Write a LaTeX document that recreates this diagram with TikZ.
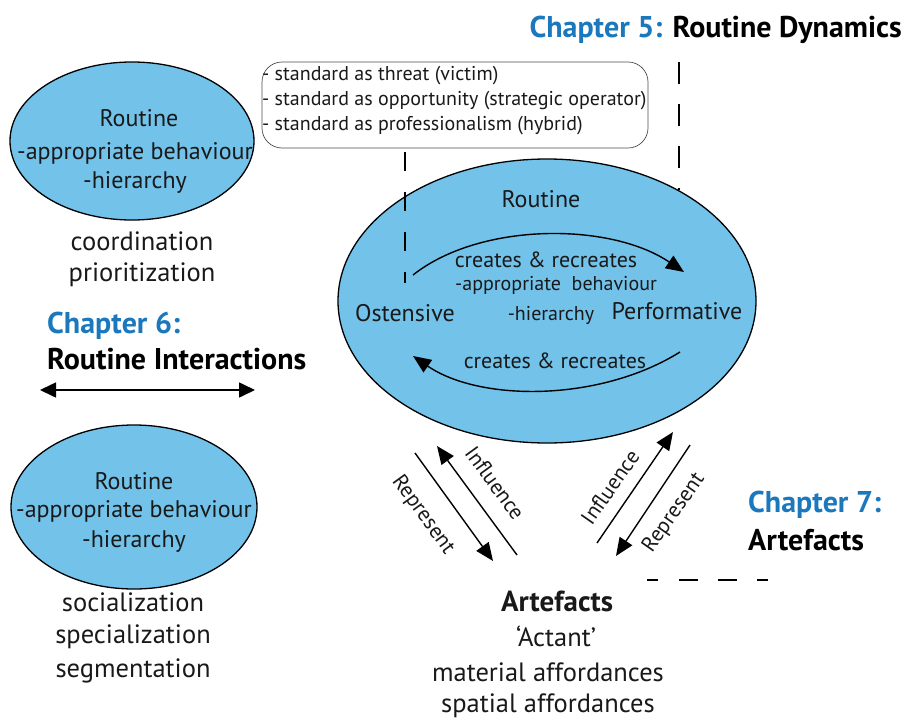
\documentclass[tikz,border=0pt]{standalone}
\usepackage{fontspec}
\setmainfont{PT Sans}
\usetikzlibrary{arrows.meta,shapes.geometric}
\definecolor{routblue}{HTML}{72C2EA}
\definecolor{chapblue}{HTML}{1B78BD}
\newcommand\myfs[1]{\fontsize{#1}{#1}\selectfont}
\begin{document}
\begin{tikzpicture}[x=1pt,y=-1pt,
  routine/.style={draw=black, line width=1.3pt, ellipse, fill=routblue, inner sep=0pt},
  txt/.style={inner sep=0pt, font=\myfs{24}, text=black!90},
  big/.style={inner sep=0pt, font=\myfs{26.5}, text=black!90},
  small/.style={inner sep=0pt, font=\myfs{20}, text=black!90},
  rot/.style={inner sep=0pt, font=\myfs{21.5}, text=black!90},
  chap/.style={inner sep=0pt, font=\bfseries\myfs{30}, anchor=west},
  arr/.style={line width=1.4pt, -{Triangle[length=18pt,width=15pt]}},
  dashline/.style={line width=1.8pt, dash pattern=on 19pt off 21pt}]
\useasboundingbox (0,0) rectangle (905,723);

% left ellipses
\node[routine, minimum width=244pt, minimum height=158pt] (r1) at (132,141) {};
\node[txt] (r1a) at (139,118) {Routine};
\node[txt] (r1b) at (135,153) {-appropriate behaviour};
\node[txt] (r1c) at (135,182) {-hierarchy};
\node[big] (coord) at (142,241) {coordination};
\node[big] (prio) at (142,275) {prioritization};

\node[chap, text=chapblue] (ch6) at (47,326) {Chapter 6:};
\node[chap] (ch6b) at (47,359) {Routine Interactions};
\coordinate (dl) at (40,390);
\coordinate (dr) at (255,390);
\draw[line width=1.6pt, {Triangle[length=16pt,width=15pt]}-{Triangle[length=16pt,width=15pt]}] (dl) -- (dr);

\node[routine, minimum width=246pt, minimum height=164pt] (r2) at (134,507) {};
\node[txt] (r2a) at (134,481) {Routine};
\node[txt] (r2b) at (134,511) {-appropriate behaviour};
\node[txt] (r2c) at (134,541) {-hierarchy};
\node[big] (soc) at (133,602) {socialization};
\node[big] (spec) at (133,637) {specialization};
\node[big] (seg) at (133,671) {segmentation};

% top box
\node[draw=black!70, line width=0.7pt, rounded corners=20pt, minimum width=386pt, minimum height=86pt] (box) at (455,105) {};
\node[small, anchor=west, align=left] (boxt) at (262,101) {- standard as threat (victim)\\[5pt]- standard as opportunity (strategic operator)\\[5pt]- standard as professionalism (hybrid)};

% chapter 5
\node[chap, anchor=east] (ch5) at (902,30) {\textcolor{chapblue}{Chapter 5:} Routine Dynamics};

% big ellipse
\node[routine, minimum width=418pt, minimum height=284pt] (big) at (547,301) {};
\node[txt] (bR) at (541,199) {Routine};
\node[txt] (ost) at (405,313) {Ostensive};
\node[txt] (perf) at (677,311) {Performative};
\node[small, font=\myfs{22}] (cr1) at (546,260) {creates \& recreates};
\node[small] (app) at (556,285) {-appropriate\ \ behaviour};
\node[small] (hier) at (551,315) {-hierarchy};
\node[small, font=\myfs{22}] (cr2) at (555,361) {creates \& recreates};

% dashed lines
\coordinate (d1a) at (405,152);
\coordinate (d1b) at (405,283);
\draw[dashline] (d1a) -- (d1b);
\coordinate (d2a) at (679,62);
\coordinate (d2b) at (679,190);
\draw[dashline, dash pattern=on 22pt off 20pt] (d2a) -- (d2b);
\coordinate (d3a) at (647,580);
\coordinate (d3b) at (768,580);
\draw[dashline, dash pattern=on 11pt off 21pt on 19pt off 20pt on 19pt off 20pt on 11pt off 40pt] (d3a) -- (d3b);

% curved arrows
\coordinate (ca1) at (413,275);
\coordinate (ca2) at (684,272);
\draw[arr] (ca1) .. controls (480,222) and (610,222) .. (ca2);
\coordinate (cb1) at (680,352);
\coordinate (cb2) at (413,356);
\draw[arr] (cb1) .. controls (600,402) and (480,402) .. (cb2);

% diagonal arrows
\coordinate (l1s) at (415,453);
\coordinate (l1e) at (493,561);
\draw[arr] (l1s) -- (l1e);
\coordinate (l2s) at (517,555);
\coordinate (l2e) at (437,446);
\draw[arr] (l2s) -- (l2e);
\node[rot, rotate=-54] (rep1) at (423,515) {Represent};
\node[rot, rotate=-54] (inf1) at (495,483) {Influence};

\coordinate (r1s) at (597,543);
\coordinate (r1e) at (673,432);
\draw[arr] (r1s) -- (r1e);
\coordinate (r2s) at (690,445);
\coordinate (r2e) at (616,556);
\draw[arr] (r2s) -- (r2e);
\node[rot, rotate=55] (inf2) at (610,487) {Influence};
\node[rot, rotate=55] (rep2) at (674,513) {Represent};

% chapter 7
\node[chap, text=chapblue] (ch7) at (748,505) {Chapter 7:};
\node[chap] (ch7b) at (748,540) {Artefacts};

% artefacts
\node[big, font=\bfseries\myfs{29}] (art) at (557,601) {Artefacts};
\node[big] (act) at (556,636) {`Actant'};
\node[big] (mat) at (548,672) {material affordances};
\node[big] (spa) at (548,706) {spatial affordances};
\end{tikzpicture}
\end{document}
